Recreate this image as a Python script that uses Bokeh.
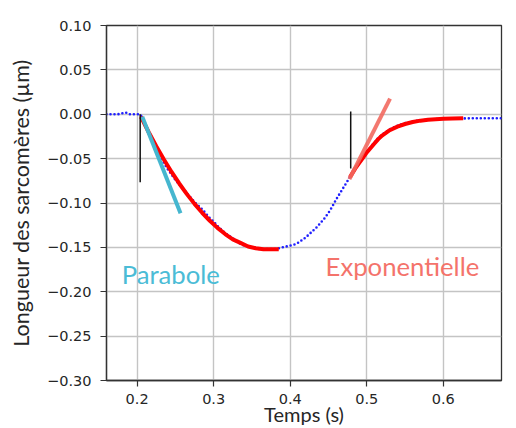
from bokeh.plotting import figure
from bokeh.models import FixedTicker, CustomJSTickFormatter, Label
from bokeh.embed import file_html
from bokeh.resources import INLINE

# ---------------- data ----------------
t_data = [0.160, 0.165, 0.170, 0.175, 0.180, 0.185, 0.190, 0.195, 0.200, 0.204,
          0.207, 0.210, 0.215, 0.220, 0.225, 0.230, 0.235, 0.240, 0.245, 0.250,
          0.255, 0.260, 0.265, 0.270, 0.275, 0.280, 0.285, 0.290, 0.295, 0.300,
          0.305, 0.310, 0.315, 0.320, 0.325, 0.330, 0.335, 0.340, 0.345, 0.350,
          0.355, 0.360, 0.370, 0.380, 0.385, 0.390, 0.395, 0.400, 0.405, 0.410,
          0.415, 0.420, 0.425, 0.430, 0.435, 0.440, 0.445, 0.450, 0.455, 0.460,
          0.465, 0.470, 0.475, 0.480, 0.485, 0.490, 0.495, 0.500, 0.505, 0.510,
          0.515, 0.520, 0.525, 0.530, 0.540, 0.550, 0.560, 0.570, 0.580, 0.590,
          0.600, 0.620, 0.640, 0.660, 0.676]
y_data = [0.000, 0.000, 0.000, 0.000, 0.001, 0.002, 0.000, 0.000, 0.000, 0.000,
          -0.004, -0.010, -0.020, -0.029, -0.038, -0.047, -0.055, -0.062, -0.068, -0.074,
          -0.079, -0.084, -0.089, -0.094, -0.099, -0.103, -0.107, -0.112, -0.117, -0.121,
          -0.126, -0.130, -0.134, -0.137, -0.140, -0.143, -0.146, -0.148, -0.149, -0.150,
          -0.151, -0.152, -0.152, -0.152, -0.151, -0.150, -0.149, -0.148, -0.147, -0.145,
          -0.142, -0.139, -0.135, -0.131, -0.127, -0.122, -0.117, -0.111, -0.104, -0.096,
          -0.089, -0.082, -0.075, -0.068, -0.061, -0.055, -0.049, -0.043, -0.037, -0.032,
          -0.027, -0.023, -0.020, -0.017, -0.013, -0.010, -0.008, -0.007, -0.006, -0.0055,
          -0.005, -0.0048, -0.0045, -0.0045, -0.0045]

t_para = [0.205, 0.215, 0.225, 0.235, 0.245, 0.255, 0.265, 0.275, 0.285, 0.295,
          0.305, 0.315, 0.325, 0.335, 0.345, 0.355, 0.365, 0.375, 0.385]
y_para = [-0.003, -0.020, -0.036, -0.051, -0.065, -0.078, -0.090, -0.101, -0.111, -0.120,
          -0.128, -0.135, -0.141, -0.145, -0.149, -0.151, -0.152, -0.152, -0.152]

t_exp = [0.478, 0.485, 0.490, 0.495, 0.500, 0.505, 0.510, 0.515, 0.520, 0.525,
         0.530, 0.540, 0.550, 0.560, 0.570, 0.580, 0.590, 0.600, 0.612, 0.626]
y_exp = [-0.071, -0.061, -0.055, -0.049, -0.043, -0.038, -0.033, -0.028, -0.024, -0.021,
         -0.018, -0.014, -0.011, -0.0088, -0.0072, -0.0062, -0.0056, -0.0052, -0.0049, -0.0046]

tan_para_t = [0.2067, 0.2567]
tan_para_y = [-0.0027, -0.1116]
tan_exp_t = [0.4773, 0.5304]
tan_exp_y = [-0.0732, 0.0176]

onset1_t = [0.204, 0.204]
onset1_y = [0.0, -0.0766]
onset2_t = [0.479, 0.479]
onset2_y = [0.003, -0.061]

x_ticks = [0.2, 0.3, 0.4, 0.5, 0.6]
x_tick_labels = ["0.2", "0.3", "0.4", "0.5", "0.6"]
y_ticks = [-0.30, -0.25, -0.20, -0.15, -0.10, -0.05, 0.00, 0.05, 0.10]
y_tick_labels = ["\u22120.30", "\u22120.25", "\u22120.20", "\u22120.15", "\u22120.10",
                 "\u22120.05", "0.00", "0.05", "0.10"]

x_label = "Temps (s)"
y_label = "Longueur des sarcomères (µm)"
label_para = "Parabole"
label_exp = "Exponentielle"
label_para_pos = (0.1798, -0.180)
label_exp_pos = (0.4462, -0.171)

# ---------------- figure ----------------
p = figure(width=516, height=428, x_range=(0.16, 0.676), y_range=(-0.30, 0.10),
           output_backend="svg", toolbar_location=None,
           min_border_left=106, min_border_top=25, min_border_right=15, min_border_bottom=47)
p.background_fill_color = "white"
p.border_fill_color = "white"
p.outline_line_color = "#333333"
p.outline_line_width = 1.3

fmt_code = """
for (let i = 0; i < vals.length; i++) {
  if (Math.abs(vals[i] - tick) < 1e-9) { return labs[i]; }
}
return "";
"""
p.xaxis.ticker = FixedTicker(ticks=x_ticks)
p.yaxis.ticker = FixedTicker(ticks=y_ticks)
p.xaxis.formatter = CustomJSTickFormatter(args=dict(vals=x_ticks, labs=x_tick_labels), code=fmt_code)
p.yaxis.formatter = CustomJSTickFormatter(args=dict(vals=y_ticks, labs=y_tick_labels), code=fmt_code)

for ax in (p.xaxis, p.yaxis):
    ax.major_tick_out = 6
    ax.major_tick_in = 0
    ax.minor_tick_out = 0
    ax.minor_tick_in = 0
    ax.major_tick_line_color = "#333333"
    ax.major_tick_line_width = 1.2
    ax.axis_line_color = "#333333"
    ax.axis_line_width = 1.3
    ax.major_label_text_font = "DejaVu Sans"
    ax.major_label_text_font_size = "14.5px"
    ax.major_label_text_color = "#262626"
    ax.axis_label_text_font = "Lato"
    ax.axis_label_text_font_style = "normal"
    ax.axis_label_text_color = "#262626"

p.xaxis.major_label_standoff = 7
p.yaxis.major_label_standoff = 9
p.yaxis.axis_label = y_label
p.yaxis.axis_label_text_font_size = "21.5px"
p.yaxis.axis_label_standoff = 10
p.xaxis.axis_label = x_label
p.xaxis.axis_label_text_font_size = "20px"
p.xaxis.axis_label_standoff = -5

p.xgrid.grid_line_color = "#c4c4c4"
p.ygrid.grid_line_color = "#c4c4c4"
p.xgrid.grid_line_width = 1.4
p.ygrid.grid_line_width = 1.4

# measured data (dotted blue)
p.line(t_data, y_data, line_color="#1f1fff", line_width=2.6, line_dash="0 4",
       line_cap="round")
# fits
p.line(t_para, y_para, line_color="#ff0000", line_width=4)
p.line(t_exp, y_exp, line_color="#ff0000", line_width=4)
# tangents
p.line(tan_para_t, tan_para_y, line_color="#45b6cf", line_width=4)
p.line(tan_exp_t, tan_exp_y, line_color="#f2695f", line_width=4, line_alpha=0.9)
# onset markers
p.line(onset1_t, onset1_y, line_color="#111111", line_width=1.5)
p.line(onset2_t, onset2_y, line_color="#111111", line_width=1.5)

p.add_layout(Label(x=label_para_pos[0], y=label_para_pos[1], text=label_para,
                   text_font="Lato", text_font_size="25.7px", text_color="#4bbcd6",
                   text_align="left", text_baseline="alphabetic"))
p.add_layout(Label(x=label_exp_pos[0], y=label_exp_pos[1], text=label_exp,
                   text_font="Lato", text_font_size="25.7px", text_color="#f4736b",
                   text_align="left", text_baseline="alphabetic"))

open("out.html", "w").write(file_html(p, INLINE))
